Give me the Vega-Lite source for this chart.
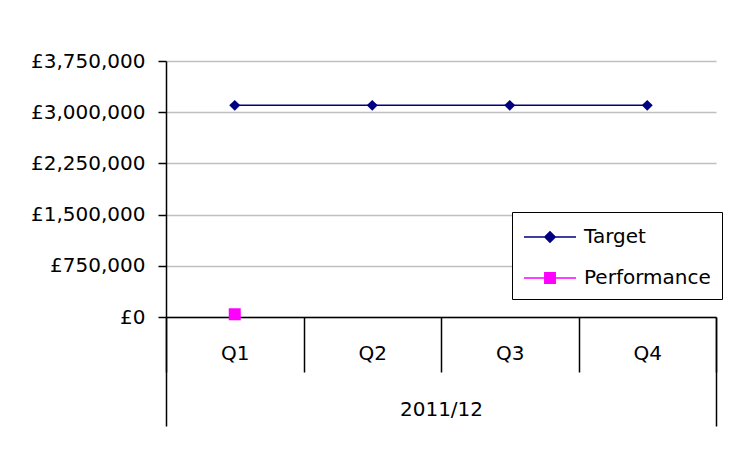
{
  "$schema": "https://vega.github.io/schema/vega-lite/v6.json",
  "width": 550,
  "height": 256,
  "autosize": {"type": "none"},
  "padding": {"left": 166, "top": 61, "right": 23, "bottom": 139},
  "background": "white",
  "config": {"view": {"stroke": null}, "font": "DejaVu Sans"},
  "data": {
    "values": [
      {"quarter": "Q1", "series": "Target", "value": 3100000},
      {"quarter": "Q2", "series": "Target", "value": 3100000},
      {"quarter": "Q3", "series": "Target", "value": 3100000},
      {"quarter": "Q4", "series": "Target", "value": 3100000},
      {"quarter": "Q1", "series": "Performance", "value": 40000}
    ]
  },
  "layer": [
    {
      "mark": {"type": "line", "strokeWidth": 1.5},
      "encoding": {
        "x": {
          "field": "quarter", "type": "nominal", "bandPosition": 0.5,
          "scale": {"type": "band", "domain": ["Q1", "Q2", "Q3", "Q4"], "paddingInner": 0, "paddingOuter": 0},
          "axis": {
            "orient": "bottom", "title": "2011/12", "titlePadding": 27, "titleFontSize": 20, "titleFontWeight": "normal", "titleColor": "black", "titleFont": "DejaVu Sans",
            "domain": true, "domainColor": "black", "domainWidth": 1.5,
            "ticks": true, "tickBand": "extent", "tickSize": 55, "tickColor": "black", "tickWidth": 1.5,
            "labelAngle": 0, "labelFontSize": 20, "labelColor": "black", "labelBaseline": "middle", "labelPadding": -19, "labelFont": "DejaVu Sans",
            "grid": false
          }
        },
        "y": {
          "field": "value", "type": "quantitative",
          "scale": {"domain": [0, 3750000], "nice": false, "zero": true},
          "axis": {
            "title": null, "values": [0, 750000, 1500000, 2250000, 3000000, 3750000],
            "labelExpr": "'£' + format(datum.value, ',')",
            "labelFontSize": 20, "labelColor": "black", "labelPadding": 13, "labelFont": "DejaVu Sans",
            "domain": true, "domainColor": "black", "domainWidth": 1.5,
            "tickColor": "black", "tickSize": 8, "tickWidth": 1.5,
            "grid": true, "gridColor": "#c0c0c0", "gridWidth": 1.5
          }
        },
        "color": {
          "field": "series", "type": "nominal",
          "scale": {"domain": ["Target", "Performance"], "range": ["#000080", "#ff00ff"]},
          "legend": {
            "title": null, "orient": "none", "legendX": 346, "legendY": 151,
            "strokeColor": "black", "fillColor": "white", "padding": 11,
            "labelFontSize": 20, "labelColor": "black", "labelFont": "DejaVu Sans", "labelOffset": 33,
            "rowPadding": 17, "symbolSize": 676, "symbolStrokeWidth": 1.5,
            "encode": {
              "symbols": {
                "update": {
                  "shape": {"signal": "datum.value === 'Target' ? 'M-1,0H3M1,-0.4L1.4,0L1,0.4L0.6,0Z' : 'M-1,0H3M0.6,-0.4H1.4V0.4H0.6Z'"},
                  "fill": {"signal": "datum.value === 'Target' ? '#000080' : '#ff00ff'"},
                  "stroke": {"signal": "datum.value === 'Target' ? '#000080' : '#ff00ff'"},
                  "strokeWidth": {"value": 1.5},
                  "opacity": {"value": 1},
                  "fillOpacity": {"value": 1}
                }
              }
            }
          }
        }
      }
    },
    {
      "transform": [{"filter": "datum.series === 'Target'"}],
      "mark": {"type": "point", "filled": true, "opacity": 1, "size": 120, "shape": "diamond", "color": "#000080"},
      "encoding": {
        "x": {
          "field": "quarter", "type": "nominal", "bandPosition": 0.5,
          "scale": {"type": "band", "domain": ["Q1", "Q2", "Q3", "Q4"], "paddingInner": 0, "paddingOuter": 0},
          "axis": {
            "orient": "bottom", "title": null, "labels": false, "domain": false, "grid": false,
            "ticks": true, "tickBand": "extent", "tickSize": 109, "tickColor": "black", "tickWidth": 1.5,
            "tickOpacity": {"condition": {"test": "(datum.value === 'Q1' || datum.value === 'Q2' || datum.value === 'Q3') && !datum.extra", "value": 0}, "value": 1}
          }
        },
        "y": {"field": "value", "type": "quantitative", "scale": {"domain": [0, 3750000], "nice": false, "zero": true}}
      }
    },
    {
      "transform": [{"filter": "datum.series === 'Performance'"}],
      "mark": {"type": "point", "filled": true, "opacity": 1, "size": 144, "shape": "square", "color": "#ff00ff"},
      "encoding": {
        "x": {
          "field": "quarter", "type": "nominal", "bandPosition": 0.5,
          "scale": {"type": "band", "domain": ["Q1", "Q2", "Q3", "Q4"], "paddingInner": 0, "paddingOuter": 0},
          "axis": null
        },
        "y": {"field": "value", "type": "quantitative", "scale": {"domain": [0, 3750000], "nice": false, "zero": true}}
      }
    }
  ],
  "resolve": {"axis": {"x": "independent"}}
}
